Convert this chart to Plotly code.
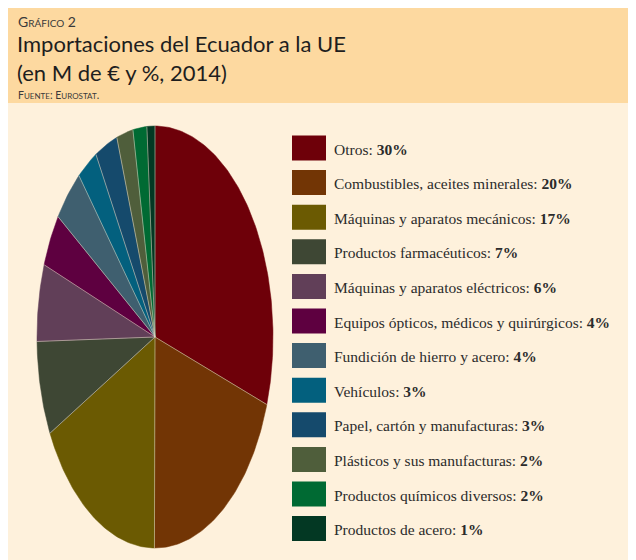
"""Importaciones del Ecuador a la UE (2014) - tarta + leyenda."""
import math
import plotly.graph_objects as go

# datos
categorias = [
    "Otros",
    "Combustibles, aceites minerales",
    "Máquinas y aparatos mecánicos",
    "Productos farmacéuticos",
    "Máquinas y aparatos eléctricos",
    "Equipos ópticos, médicos y quirúrgicos",
    "Fundición de hierro y acero",
    "Vehículos",
    "Papel, cartón y manufacturas",
    "Plásticos y sus manufacturas",
    "Productos químicos diversos",
    "Productos de acero",
]
cuotas = [30.2, 19.9, 17.4, 7.2, 5.9, 4.1, 4.2, 2.8, 3.1, 2.25, 1.9, 1.1]
etiquetas_pct = ["30%", "20%", "17%", "7%", "6%", "4%", "4%", "3%", "3%", "2%", "2%", "1%"]
colores = [
    "#6e0009", "#723505", "#6b5a02", "#3e4734", "#613f58", "#5e0040",
    "#3f5f6f", "#03607e", "#154a6c", "#4f5e3b", "#006a33", "#033823",
]

# geometria en pixeles de la pagina (el body tiene 8px de margen)
W, H = 636, 560
OFF = 8
cx, cy, rx, ry = 155, 337, 118, 211

fig = go.Figure()

total = sum(cuotas)
acum = 0.0
radios_x, radios_y = [], []
for nombre, v, col in zip(categorias, cuotas, colores):
    t0 = acum / total * 2 * math.pi
    acum += v
    t1 = acum / total * 2 * math.pi
    n = max(3, int((t1 - t0) / (2 * math.pi) * 360))
    xs, ys = [cx], [cy]
    for i in range(n + 1):
        t = t0 + (t1 - t0) * i / n
        xs.append(cx + rx * math.sin(t))
        ys.append(cy - ry * math.cos(t))
    xs.append(cx)
    ys.append(cy)
    fig.add_trace(go.Scatter(x=xs, y=ys, fill="toself", fillcolor=col,
                             mode="lines", line=dict(color=col, width=0.5),
                             hoverinfo="text", text=nombre, showlegend=False))
    radios_x += [cx, cx + rx * math.sin(t0), None]
    radios_y += [cy, cy - ry * math.cos(t0), None]

# separadores claros entre porciones
fig.add_trace(go.Scatter(x=radios_x, y=radios_y, mode="lines",
                         line=dict(color="rgba(225,215,195,0.8)", width=0.7),
                         hoverinfo="skip", showlegend=False))

shapes = [
    dict(type="rect", xref="x", yref="y", x0=OFF, x1=W + OFF, y0=OFF, y1=103,
         fillcolor="#fdd9a0", line_width=0, layer="below"),
    dict(type="rect", xref="x", yref="y", x0=OFF, x1=W + OFF, y0=103, y1=H + OFF,
         fillcolor="#fef1dc", line_width=0, layer="below"),
]
annotations = []

# leyenda
y_ini, paso = 148, 34.6
for i, (nombre, pct, col) in enumerate(zip(categorias, etiquetas_pct, colores)):
    yc = y_ini + i * paso
    shapes.append(dict(type="rect", xref="x", yref="y", x0=292, x1=326,
                       y0=yc - 12.5, y1=yc + 12.5, fillcolor=col, line_width=0))
    annotations.append(dict(x=332, y=yc + 1, xref="x", yref="y", xanchor="left",
                            yanchor="middle", showarrow=False,
                            text=nombre + ": <b>" + pct + "</b>",
                            font=dict(family="Liberation Serif", size=15.5,
                                      color="#2b2b2b")))

# cabecera
sans = "Lato"
annotations += [
    dict(x=17, y=31, xref="x", yref="y", xanchor="left", yanchor="bottom",
         showarrow=False, borderpad=0,
         text="G<span style='font-size:10px'>RÁFICO</span> 2",
         font=dict(family=sans, size=14, color="#3a3a3a")),
    dict(x=16, y=87.5, xref="x", yref="y", xanchor="left", yanchor="bottom",
         showarrow=False, borderpad=0, align="left",
         text="Importaciones del Ecuador a la UE<br>(en M de € y %, 2014)",
         font=dict(family=sans, size=22, color="#1e1e1e")),
    dict(x=17, y=101.5, xref="x", yref="y", xanchor="left", yanchor="bottom",
         showarrow=False, borderpad=0,
         text="F<span style='font-size:8px'>UENTE</span>: E<span style='font-size:8px'>UROSTAT</span>.",
         font=dict(family=sans, size=10.5, color="#3a3a3a")),
]

fig.update_layout(
    width=W, height=H,
    margin=dict(l=0, r=0, t=0, b=0),
    paper_bgcolor="white", plot_bgcolor="rgba(0,0,0,0)",
    xaxis=dict(range=[OFF, W + OFF], visible=False, fixedrange=True),
    yaxis=dict(range=[H + OFF, OFF], visible=False, fixedrange=True),
    shapes=shapes, annotations=annotations,
)

fig.write_html("out.html")
